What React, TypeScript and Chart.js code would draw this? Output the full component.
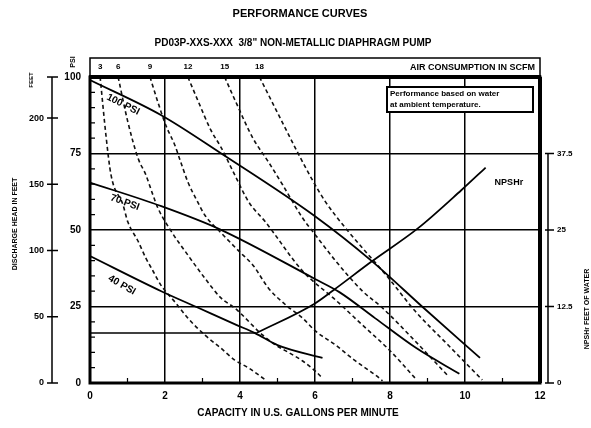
import React, { useEffect, useRef } from "react";
import { Chart, registerables } from "chart.js";
Chart.register(...registerables);

const TITLE = "PERFORMANCE CURVES";
const SUBTITLE = "PD03P-XXS-XXX  3/8\" NON-METALLIC DIAPHRAGM PUMP";
const X_TITLE = "CAPACITY IN U.S. GALLONS PER MINUTE";
const AIR_TITLE = "AIR CONSUMPTION IN SCFM";
const NOTE_LINES = ["Performance based on water", "at ambient temperature."];
const LEFT_TITLE = "DISCHARGE HEAD IN FEET";
const RIGHT_TITLE = "NPSHr FEET OF WATER";

const gpmTicks = [0, 2, 4, 6, 8, 10, 12];
const psiTicks = [0, 25, 50, 75, 100];
const feetTicks = [0, 50, 100, 150, 200];
const feetMax = 231;
const npshTicks = [0, 12.5, 25, 37.5];
const npshMax = 50;

// head (psi) vs capacity (gpm) at air inlet pressures
const p100Label = "100 PSI";
const p100Gpm = [0, 1.9, 3.5, 6.0, 7.5, 8.9, 10.4];
const p100Psi = [99, 87.5, 75, 54.5, 40, 24.5, 8.2];
const p70Label = "70 PSI";
const p70Gpm = [0, 1.9, 3.45, 6.0, 6.65, 7.6, 8.7, 9.85];
const p70Psi = [65.5, 57.8, 50.3, 34, 29.7, 21.2, 11.4, 3];
const p40Label = "40 PSI";
const p40Gpm = [0, 1.9, 2.9, 3.9, 4.4, 5.0, 6.2];
const p40Psi = [41.5, 30, 24.5, 19, 16.3, 12.4, 8.2];

// NPSHr (feet, right axis)
const npshLabel = "NPSHr";
const npshGpm = [4.45, 6.0, 6.5, 7.5, 8.75, 9.9, 10.55];
const npshFt = [8.2, 13.0, 15.2, 19.8, 25.3, 31.5, 35.2];
const npshRefGpm = [0, 4.45];
const npshRefPsi = [16.3, 16.3];

// air consumption (scfm) lines
const airLabels = ["3", "6", "9", "12", "15", "18"];
const air3Gpm = [0.27, 0.43, 0.56, 0.88, 1.01, 1.28, 1.49, 1.68, 1.89, 2.29, 2.61, 3.06, 3.49, 3.86, 4.23, 4.68];
const air3Psi = [100, 80.4, 68, 58.2, 52.6, 46.4, 40.8, 36.6, 32, 26.1, 21.2, 15.7, 11.4, 7.5, 4.9, 1];
const air6Gpm = [0.75, 1.01, 1.28, 1.49, 1.68, 1.81, 2.16, 2.61, 3.06, 3.49, 3.86, 4.6, 4.95, 5.22, 5.67, 6.01, 6.2];
const air6Psi = [100, 85.3, 73.5, 68, 61.4, 57.2, 49.7, 41.8, 34.3, 27.8, 24.5, 15.7, 12.4, 10.5, 7.2, 3.9, 1.6];
const air9Gpm = [1.6, 1.81, 2.02, 2.26, 2.42, 2.61, 2.87, 3.06, 3.5, 4.02, 4.34, 4.76, 5.22, 5.67, 6.01, 6.55, 7.08, 7.61, 7.8];
const air9Psi = [100, 91.8, 84.3, 77.8, 72.2, 65.7, 59.2, 54.9, 49, 42.5, 38.6, 31, 25.5, 21.2, 17, 12.4, 7.2, 2.6, 0.7];
const air12Gpm = [2.61, 2.87, 3.22, 3.49, 3.86, 4.23, 4.68, 5.67, 6.55, 7.26, 7.98, 8.67];
const air12Psi = [100, 92.5, 82.7, 77.1, 68, 59.2, 52.6, 36.6, 27.1, 19, 10.8, 1.6];
const air15Gpm = [3.59, 3.89, 4.34, 4.76, 5.14, 5.67, 6.01, 6.55, 7.26, 7.8, 8.67, 9.55];
const air15Psi = [100, 91.8, 80.1, 72.2, 64.7, 53.9, 48.4, 39.9, 30.1, 24.5, 13.7, 2.3];
const air18Gpm = [4.52, 5.03, 5.53, 5.96, 6.28, 6.81, 7.96, 8.67, 9.55, 10.46];
const air18Psi = [100, 87.6, 75.5, 65.7, 59.2, 50.7, 34.3, 23.5, 12.4, 1];

const FONT = '"Liberation Sans", Arial, sans-serif';

function pts(xs: number[], ys: number[]) {
  return xs.map((x, i) => ({ x, y: ys[i] }));
}

function solid(label: string, data: any[], axis = "y") {
  return {
    label,
    data,
    yAxisID: axis,
    borderColor: "#000",
    borderWidth: 1.8,
    pointRadius: 0,
    cubicInterpolationMode: "monotone",
    fill: false,
  };
}

function dashed(label: string, data: any[]) {
  return {
    label,
    data,
    yAxisID: "y",
    borderColor: "#111",
    borderWidth: 1.6,
    borderDash: [4, 3],
    pointRadius: 0,
    cubicInterpolationMode: "monotone",
    fill: false,
  };
}

const airSeries = [
  [air3Gpm, air3Psi],
  [air6Gpm, air6Psi],
  [air9Gpm, air9Psi],
  [air12Gpm, air12Psi],
  [air15Gpm, air15Psi],
  [air18Gpm, air18Psi],
];

function rotText(ctx: CanvasRenderingContext2D, t: string, cx: number, cy: number, deg: number, font: string, maxW?: number) {
  ctx.save();
  ctx.translate(cx, cy);
  ctx.rotate((deg * Math.PI) / 180);
  ctx.font = font;
  ctx.textAlign = "center";
  ctx.textBaseline = "middle";
  if (maxW) ctx.fillText(t, 0, 0, maxW);
  else ctx.fillText(t, 0, 0);
  ctx.restore();
}

const overlay = {
  id: "overlay",
  afterDraw(chart: any) {
    const { ctx, chartArea: a, scales } = chart;
    const xs = scales.x, ys = scales.y, yF = scales.yFeet, yN = scales.yN;
    ctx.save();
    ctx.fillStyle = "#000";
    ctx.strokeStyle = "#000";

    // titles
    ctx.textAlign = "center";
    ctx.textBaseline = "middle";
    ctx.font = `bold 11px ${FONT}`;
    ctx.fillText(TITLE, 300, 14, 176);
    ctx.font = `bold 10px ${FONT}`;
    ctx.fillText(SUBTITLE, 293, 43, 293);

    // x title
    ctx.font = `bold 10px ${FONT}`;
    ctx.fillText(X_TITLE, 298, 413, 232);

    // header box (air consumption)
    ctx.lineWidth = 1.5;
    ctx.strokeRect(a.left, 58, a.right - a.left, a.top - 58);
    ctx.font = `bold 8px ${FONT}`;
    ctx.textAlign = "center";
    airSeries.forEach((s, i) => {
      ctx.fillText(airLabels[i], xs.getPixelForValue(s[0][0]), 67);
    });
    ctx.textAlign = "right";
    ctx.font = `bold 9px ${FONT}`;
    ctx.fillText(AIR_TITLE, a.right - 5, 68, 135);

    // plot frame
    ctx.lineWidth = 3;
    ctx.strokeRect(a.left, a.top, a.right - a.left, a.bottom - a.top);
    ctx.lineWidth = 4;
    ctx.beginPath();
    ctx.moveTo(a.left - 1, a.top);
    ctx.lineTo(a.right + 1, a.top);
    ctx.moveTo(a.right, a.top);
    ctx.lineTo(a.right, a.bottom);
    ctx.stroke();

    // minor ticks inside
    ctx.lineWidth = 1.2;
    ctx.beginPath();
    for (let v = 5; v < 100; v += 5) {
      if (v % 25 === 0) continue;
      const py = ys.getPixelForValue(v);
      ctx.moveTo(a.left, py);
      ctx.lineTo(a.left + 5, py);
    }
    for (let v = 1; v < 12; v += 2) {
      const px = xs.getPixelForValue(v);
      ctx.moveTo(px, a.bottom);
      ctx.lineTo(px, a.bottom - 5);
    }
    ctx.stroke();

    // outer feet axis
    const fx = 52;
    ctx.lineWidth = 1.5;
    ctx.beginPath();
    ctx.moveTo(fx, yF.getPixelForValue(feetMax));
    ctx.lineTo(fx, yF.getPixelForValue(0));
    [...feetTicks, feetMax].forEach((v) => {
      const py = yF.getPixelForValue(v);
      ctx.moveTo(fx - 5, py);
      ctx.lineTo(fx + 6, py);
    });
    ctx.stroke();
    ctx.font = `bold 9px ${FONT}`;
    ctx.textAlign = "right";
    ctx.textBaseline = "middle";
    feetTicks.forEach((v) => ctx.fillText(String(v), 44, yF.getPixelForValue(v)));
    rotText(ctx, "FEET", 31, 80, -90, `bold 6px ${FONT}`, 16);
    rotText(ctx, "PSI", 73, 62, -90, `bold 7px ${FONT}`, 12);
    rotText(ctx, LEFT_TITLE, 15, 224, -90, `bold 7px ${FONT}`, 117);

    // right NPSH axis
    const rx = 548;
    ctx.beginPath();
    ctx.moveTo(rx, yN.getPixelForValue(npshTicks[npshTicks.length - 1]));
    ctx.lineTo(rx, yN.getPixelForValue(0));
    npshTicks.forEach((v) => {
      const py = yN.getPixelForValue(v);
      ctx.moveTo(rx - 3, py);
      ctx.lineTo(rx + 6, py);
    });
    ctx.stroke();
    ctx.textAlign = "left";
    ctx.font = `bold 8px ${FONT}`;
    npshTicks.forEach((v) => ctx.fillText(String(v), 557, yN.getPixelForValue(v)));
    rotText(ctx, RIGHT_TITLE, 587, 309, -90, `bold 7px ${FONT}`, 100);

    // curve labels
    const lf = `bold 10px ${FONT}`;
    rotText(ctx, p100Label, xs.getPixelForValue(0.88), ys.getPixelForValue(91), 27, lf, 46);
    rotText(ctx, p70Label, xs.getPixelForValue(0.93), ys.getPixelForValue(59), 20, lf, 42);
    rotText(ctx, p40Label, xs.getPixelForValue(0.85), ys.getPixelForValue(32), 30, lf, 40);
    rotText(ctx, npshLabel, xs.getPixelForValue(11.17), ys.getPixelForValue(65.5), 0, `bold 9px ${FONT}`, 38);

    // note box
    const bx = 387, by = 87, bw = 146, bh = 25;
    ctx.fillStyle = "#fff";
    ctx.fillRect(bx, by, bw, bh);
    ctx.lineWidth = 2;
    ctx.strokeRect(bx, by, bw, bh);
    ctx.fillStyle = "#000";
    ctx.font = `bold 8px ${FONT}`;
    ctx.textAlign = "left";
    ctx.fillText(NOTE_LINES[0], bx + 3, by + 7, 138);
    ctx.fillText(NOTE_LINES[1], bx + 3, by + 18, 138);

    ctx.restore();
  },
};

export default function App() {
  const ref = useRef<HTMLCanvasElement>(null);
  useEffect(() => {
    document.body.style.margin = "0";
    const canvas = ref.current!;
    const datasets: any[] = [
      solid(p100Label, pts(p100Gpm, p100Psi)),
      solid(p70Label, pts(p70Gpm, p70Psi)),
      solid(p40Label, pts(p40Gpm, p40Psi)),
      solid(npshLabel, pts(npshGpm, npshFt), "yN"),
      { ...solid("ref", pts(npshRefGpm, npshRefPsi)), borderWidth: 1.5 },
      ...airSeries.map((s, i) => dashed(airLabels[i] + " SCFM", pts(s[0], s[1]))),
    ];
    const chart = new Chart(canvas, {
      type: "line",
      data: { datasets },
      options: {
        animation: false,
        responsive: false,
        devicePixelRatio: 1,
        layout: { padding: { left: 60, right: 51, top: 77, bottom: 25 } },
        plugins: { legend: { display: false }, tooltip: { enabled: false }, title: { display: false } },
        scales: {
          x: {
            type: "linear",
            min: gpmTicks[0],
            max: gpmTicks[gpmTicks.length - 1],
            afterFit: (s: any) => { s.height = 20; },
            afterBuildTicks: (s: any) => { s.ticks = gpmTicks.map((v) => ({ value: v })); },
            ticks: { color: "#000", font: { family: FONT, size: 10, weight: "bold" }, padding: 7, maxRotation: 0 },
            grid: { color: "#000", lineWidth: 1.5, drawTicks: false },
            border: { display: false },
          },
          y: {
            type: "linear",
            position: "left",
            min: 0,
            max: 100,
            afterFit: (s: any) => { s.width = 30; },
            afterBuildTicks: (s: any) => { s.ticks = psiTicks.map((v) => ({ value: v })); },
            ticks: { color: "#000", font: { family: FONT, size: 10, weight: "bold" }, padding: 9 },
            grid: { color: "#000", lineWidth: 1.5, drawTicks: false },
            border: { display: false },
          },
          yFeet: { type: "linear", position: "left", display: false, min: 0, max: feetMax },
          yN: { type: "linear", position: "right", display: false, min: 0, max: npshMax },
        },
      } as any,
      plugins: [overlay],
    });
    return () => chart.destroy();
  }, []);
  return (
    <div style={{ position: "fixed", left: 0, top: 0, width: 591, height: 428, background: "#fff" }}>
      <canvas ref={ref} width={591} height={428} />
    </div>
  );
}
